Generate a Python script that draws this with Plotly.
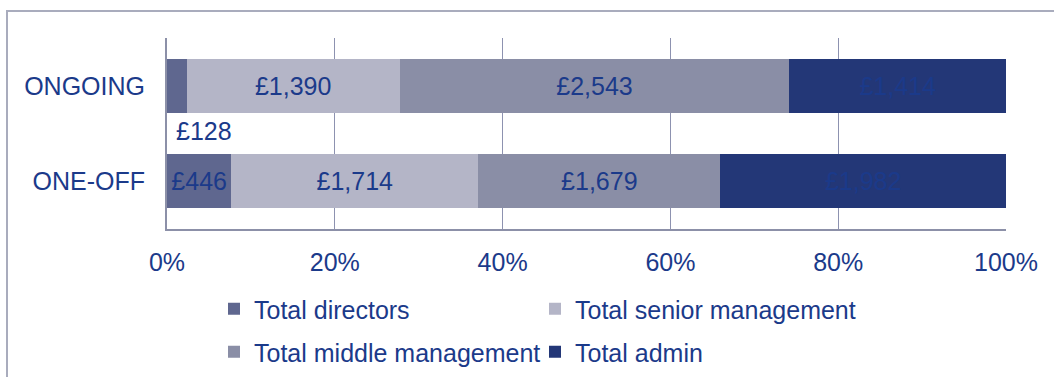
import plotly.graph_objects as go

# Cost breakdown by staff grade (£), shown as share of each cost type
categories = ["ONE-OFF", "ONGOING"]
series_names = [
    "Total directors",
    "Total senior management",
    "Total middle management",
    "Total admin",
]
directors = [446, 128]
senior_mgmt = [1714, 1390]
middle_mgmt = [1679, 2543]
admin = [1982, 1414]
x_ticks = [0, 20, 40, 60, 80, 100]

colors = ["#5f678f", "#b4b5c7", "#8a8ea6", "#233777"]
text_blue = "#1b3a8a"
font_family = "Liberation Sans, Arial, sans-serif"
fs = 25

series_values = [directors, senior_mgmt, middle_mgmt, admin]

# the tiny directors segment on the ongoing bar gets its label placed below the bar
small_label_idx = (0, categories.index("ONGOING"))

# legend laid out as a 2x2 grid: first column has fixed width, second column wide enough for its text
legend_widths = [276, 330, 276, 330]

fig = go.Figure()
for s, (name, vals, col) in enumerate(zip(series_names, series_values, colors)):
    texts = []
    for i, v in enumerate(vals):
        if (s, i) == small_label_idx:
            texts.append("")
        else:
            texts.append(f"£{v:,}")
    fig.add_trace(go.Bar(
        y=categories,
        x=vals,
        name=name,
        orientation="h",
        marker=dict(color=col, line=dict(width=0)),
        text=texts,
        textposition="inside",
        insidetextanchor="middle",
        textangle=0,
        textfont=dict(family=font_family, size=fs, color=text_blue),
        hoverinfo="skip",
        legend="legend" if s < 2 else "legend2",
        legendwidth=legend_widths[s],
    ))

s_idx, c_idx = small_label_idx
fig.add_annotation(
    x=0, xref="x", xanchor="left", xshift=7,
    y=c_idx - 0.47, yref="y", yanchor="middle",
    text=f"£{series_values[s_idx][c_idx]:,}",
    showarrow=False,
    font=dict(family=font_family, size=fs, color=text_blue),
)

# outer chart frame (only its top and left edges fall inside the view)
L, R, T, B = 167, 48, 38, 148
W, H = 1054, 377
pw, ph = W - L - R, H - T - B
fig.add_shape(
    type="rect", xref="paper", yref="paper",
    x0=(7 - L) / pw, x1=1.3, y0=-1.2, y1=(H - B - 11) / ph,
    line=dict(color="#a9acbd", width=2), fillcolor="rgba(0,0,0,0)", layer="below",
)

legend_common = dict(
    orientation="h",
    xanchor="left",
    yanchor="middle",
    font=dict(family=font_family, size=fs, color=text_blue),
    bgcolor="rgba(0,0,0,0)",
    entrywidthmode="pixels",
    traceorder="normal",
)

fig.update_layout(
    width=W, height=H,
    margin=dict(l=L, r=R, t=T, b=B, autoexpand=False),
    barmode="stack",
    barnorm="percent",
    bargap=0.43,
    plot_bgcolor="white",
    paper_bgcolor="white",
    font=dict(family=font_family, size=fs, color=text_blue),
    showlegend=True,
    legend=dict(x=(214 - L) / pw, y=(H - B - 309) / ph, **legend_common),
    legend2=dict(x=(214 - L) / pw, y=(H - B - 352) / ph, **legend_common),
    xaxis=dict(
        range=[0, 100],
        tickvals=x_ticks,
        ticktext=[f"{t}%" for t in x_ticks],
        showgrid=True, gridcolor="#8d92b0", gridwidth=1,
        zeroline=False,
        showline=True, linecolor="#8c90a8", linewidth=2,
        ticks="", ticklabelstandoff=10,
        tickfont=dict(family=font_family, size=fs, color=text_blue),
        fixedrange=True,
    ),
    yaxis=dict(
        categoryorder="array", categoryarray=categories,
        showgrid=False, zeroline=False,
        showline=True, linecolor="#8c90a8", linewidth=2,
        ticks="", ticklabelstandoff=15,
        tickfont=dict(family=font_family, size=fs, color=text_blue),
        fixedrange=True,
    ),
)

fig.write_html("out.html")
